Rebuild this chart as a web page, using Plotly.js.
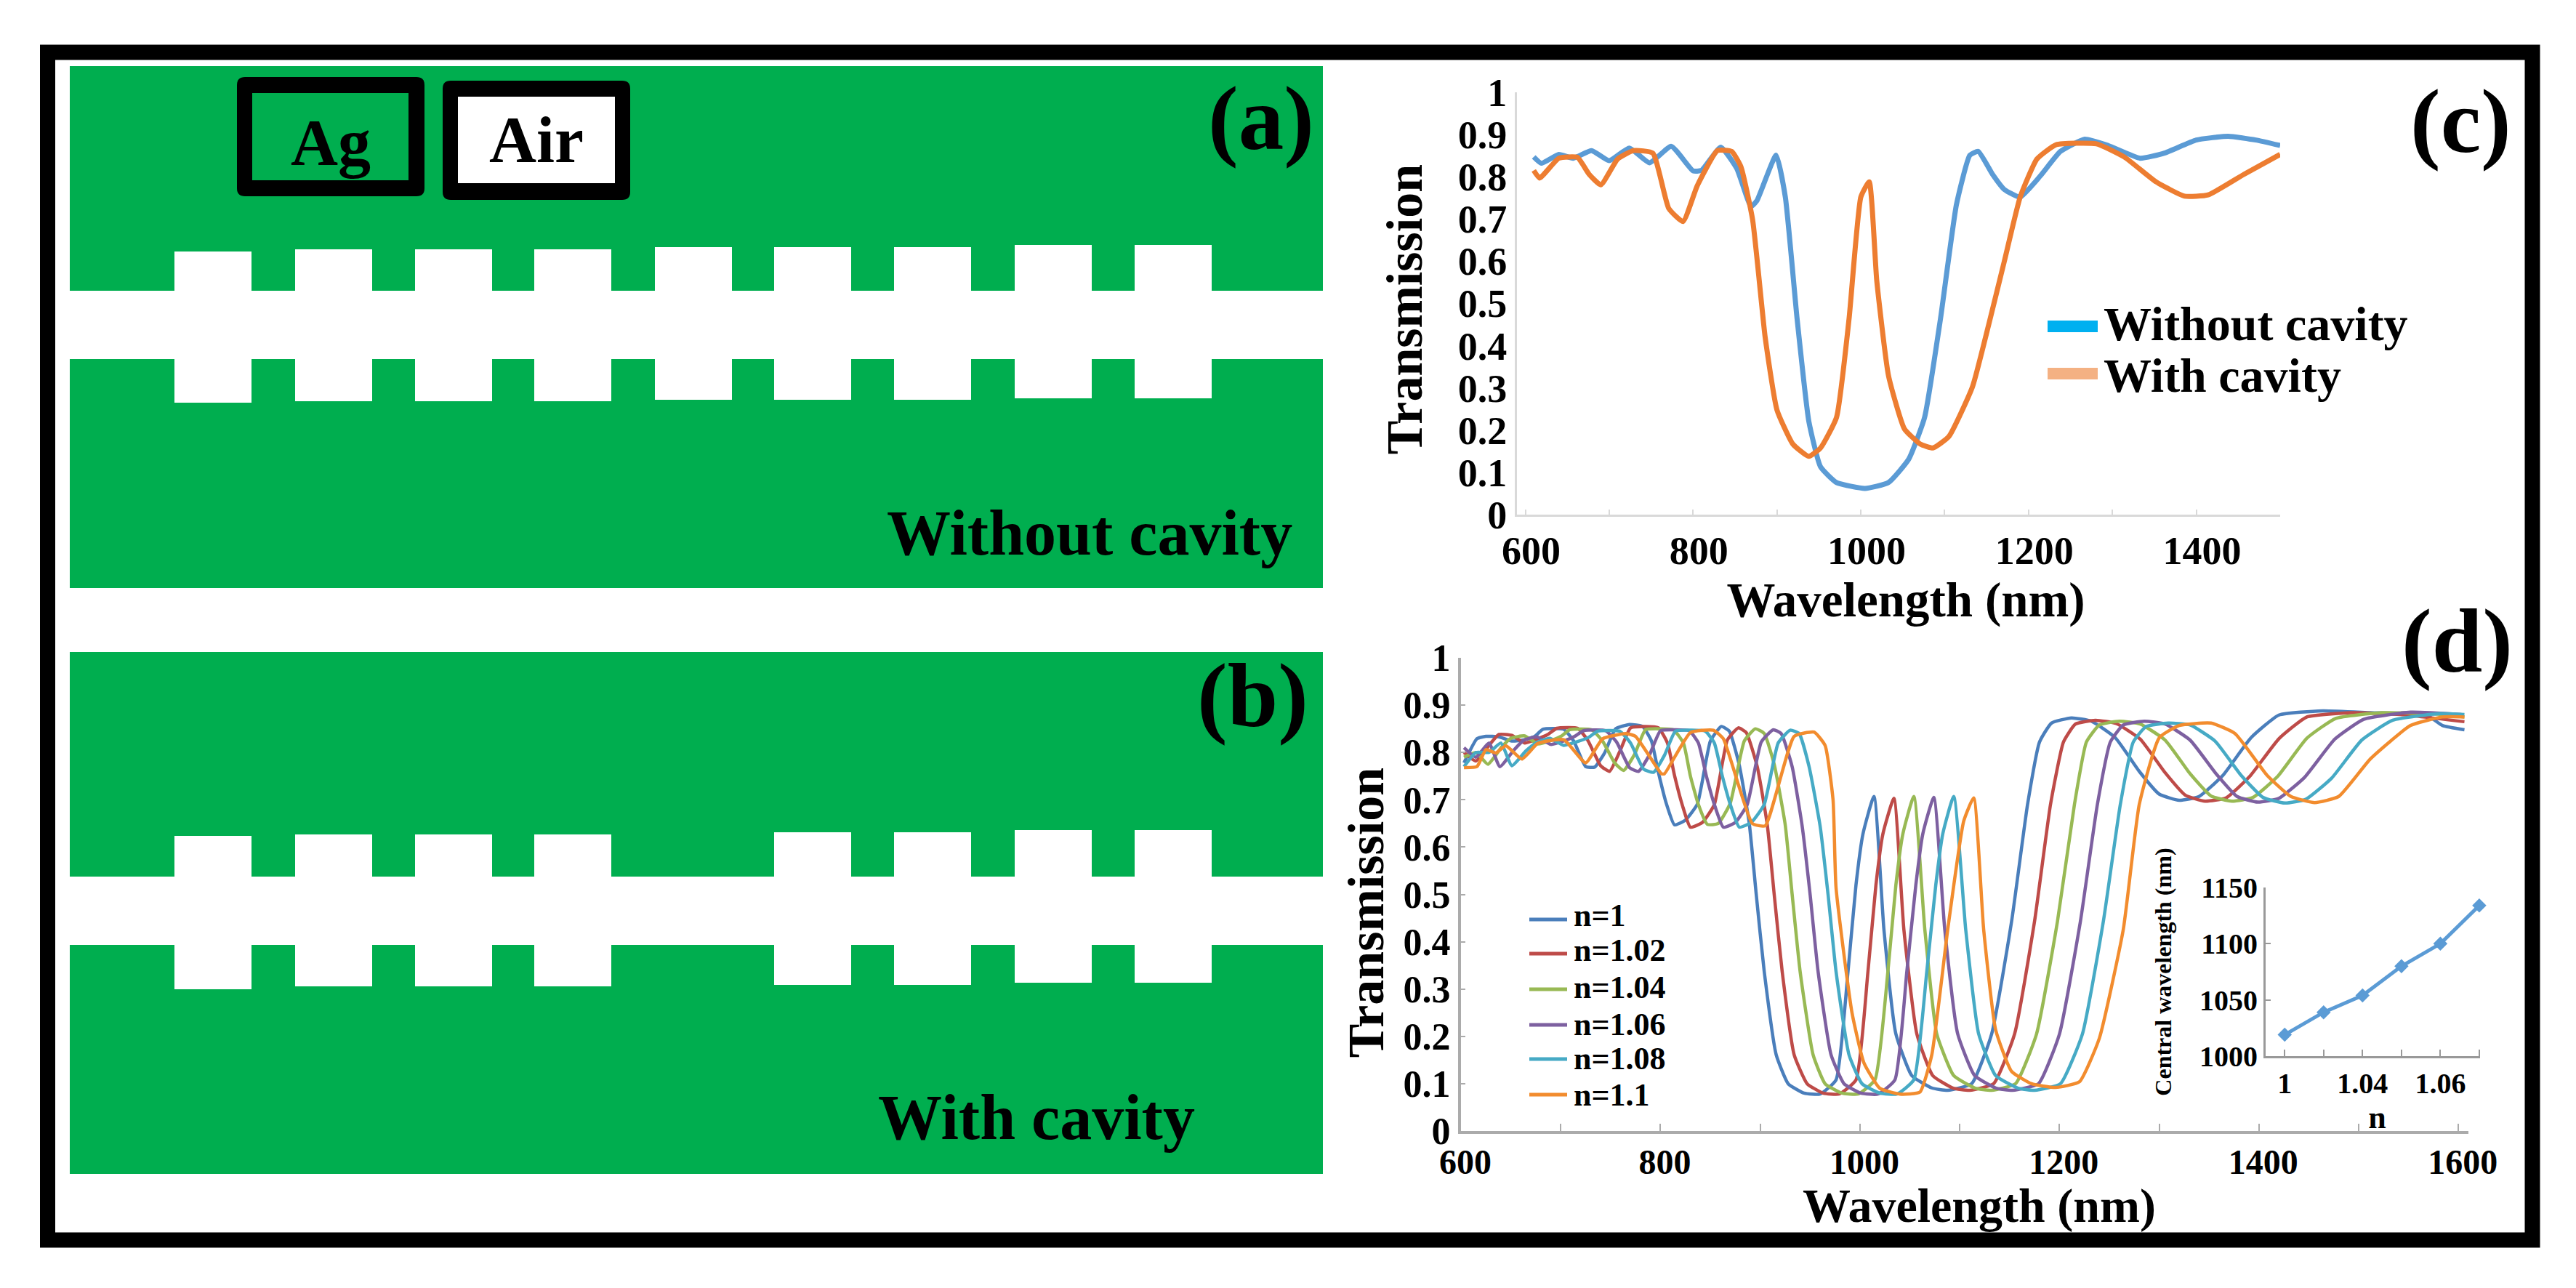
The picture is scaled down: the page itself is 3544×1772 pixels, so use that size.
<!DOCTYPE html>
<html>
<head>
<meta charset="utf-8">
<script src="https://cdn.plot.ly/plotly-3.0.1.min.js"></script>
<style>html,body{margin:0;padding:0;background:#fff}</style>
</head>
<body>
<div id="chart" style="width:3544px;height:1772px"></div>
<script>
// ---------- panel (c) ----------
const cWithoutX = [610,619,640,657,679,700,724,748,774,800,810,833,852,869,876,899,910,924,938,952,971,1005,1033,1057,1076,1095,1114,1130,1140,1157,1171,1190,1214,1238,1267,1295,1333,1362,1400,1438,1471,1500];
const cWithoutY = [.847,.832,.853,.844,.862,.838,.868,.833,.872,.814,.815,.87,.82,.73,.743,.851,.752,.464,.221,.113,.076,.062,.076,.131,.23,.464,.734,.851,.86,.806,.77,.752,.802,.86,.889,.874,.844,.856,.887,.896,.887,.874];
const cWithX = [610,617,640,662,676,690,710,729,752,771,788,805,829,846,857,871,886,900,919,938,952,971,986,1000,1010,1019,1033,1052,1071,1086,1105,1133,1152,1171,1190,1210,1233,1281,1314,1352,1386,1414,1457,1500];
const cWithY = [.815,.797,.844,.846,.806,.781,.842,.862,.856,.725,.694,.779,.862,.86,.824,.698,.419,.248,.167,.138,.158,.23,.464,.752,.788,.554,.329,.203,.167,.158,.185,.302,.446,.599,.752,.842,.876,.878,.847,.788,.754,.757,.806,.853];
const cXTicks = [600,700,800,900,1000,1100,1200,1300,1400,1500];
const cXText = ['600','','800','','1000','','1200','','1400',''];
const yTicks = [0,.1,.2,.3,.4,.5,.6,.7,.8,.9,1];
const yText = ['0','0.1','0.2','0.3','0.4','0.5','0.6','0.7','0.8','0.9','1'];

// ---------- panel (d) ----------
const dN1X = [603,616,625,638,651,664,674,682,703,713,725,734,744,755,769,782,791,798,806,814,825,837,850,861,869,879,889,896,904,916,928,944,960,976,988,996,1003,1014,1024,1036,1052,1072,1088,1112,1132,1152,1168,1180,1192,1212,1232,1256,1280,1300,1320,1340,1364,1392,1420,1464,1512,1568,1584,1606];
const dN1Y = [.778,.829,.834,.833,.824,.827,.834,.849,.849,.824,.770,.769,.799,.850,.859,.855,.824,.757,.691,.647,.657,.691,.824,.855,.845,.773,.650,.50,.337,.161,.100,.080,.078,.108,.337,.52,.628,.707,.426,.205,.117,.091,.086,.100,.205,.443,.690,.822,.862,.873,.866,.831,.760,.712,.699,.707,.752,.831,.879,.888,.884,.879,.857,.848];

const dN102X = [603,615,628,638,651,664,677,687,696,717,727,740,749,759,770,784,798,807,814,822,830,842,854,867,878,886,897,907,914,922,934,947,963,979,996,1008,1016,1023,1034,1044,1057,1073,1093,1110,1134,1155,1175,1191,1204,1216,1236,1257,1281,1306,1326,1346,1367,1391,1420,1448,1493,1542,1606];
const dN102Y = [.80,.782,.815,.838,.836,.820,.829,.838,.851,.851,.826,.772,.760,.801,.852,.855,.852,.820,.752,.688,.642,.652,.690,.826,.852,.842,.770,.648,.50,.337,.161,.100,.080,.078,.108,.337,.52,.628,.703,.426,.205,.117,.091,.086,.100,.205,.443,.690,.822,.860,.868,.861,.828,.757,.710,.697,.704,.750,.829,.875,.884,.880,.865];

const dN104X = [603,615,627,641,650,664,677,691,701,709,731,742,754,763,774,785,800,813,823,830,838,847,858,870,884,895,904,914,925,932,940,953,965,982,998,1015,1028,1036,1043,1054,1065,1077,1094,1115,1132,1156,1177,1198,1215,1227,1240,1260,1281,1306,1331,1352,1373,1394,1419,1448,1477,1523,1572,1606];
const dN104Y = [.79,.80,.775,.812,.83,.835,.818,.826,.835,.848,.848,.824,.778,.762,.796,.848,.85,.848,.82,.75,.69,.648,.65,.693,.824,.85,.84,.775,.648,.50,.337,.161,.100,.080,.078,.108,.337,.52,.628,.707,.426,.205,.117,.091,.086,.100,.205,.443,.690,.822,.858,.866,.86,.826,.755,.708,.697,.705,.750,.830,.872,.884,.882,.875];

const dN106X = [603,615,628,639,653,663,676,690,704,714,723,745,756,769,778,789,800,815,829,838,846,854,863,875,887,901,913,921,932,942,950,958,971,984,1001,1018,1035,1047,1056,1063,1074,1085,1098,1115,1136,1153,1179,1200,1221,1238,1251,1264,1285,1306,1331,1357,1378,1399,1420,1446,1476,1505,1552,1603];
const dN106Y = [.81,.79,.82,.770,.805,.826,.833,.817,.825,.834,.846,.846,.822,.768,.760,.795,.846,.848,.846,.82,.75,.69,.642,.652,.69,.822,.848,.84,.77,.645,.50,.337,.161,.100,.080,.078,.108,.337,.52,.628,.705,.426,.205,.117,.091,.086,.100,.205,.443,.690,.822,.858,.866,.86,.826,.755,.707,.695,.703,.748,.828,.870,.885,.880];

const dN108X = [603,615,628,640,651,665,675,689,703,717,728,737,759,770,783,793,804,815,831,845,854,862,870,879,891,904,918,930,939,949,960,968,976,989,1002,1020,1037,1054,1067,1076,1083,1094,1106,1119,1136,1158,1175,1201,1223,1244,1261,1274,1287,1309,1331,1356,1382,1404,1426,1447,1473,1503,1534,1581,1606];
const dN108Y = [.77,.80,.80,.82,.772,.803,.82,.83,.815,.823,.832,.845,.845,.82,.765,.758,.794,.845,.847,.845,.82,.75,.69,.642,.652,.69,.82,.847,.84,.77,.645,.50,.337,.161,.100,.080,.078,.108,.337,.52,.628,.707,.426,.205,.117,.091,.086,.100,.205,.443,.690,.822,.855,.862,.858,.824,.752,.705,.693,.701,.746,.826,.868,.882,.880];

const dN110X = [603,616,625,635,645,661,677,703,725,742,765,775,801,804,830,853,863,892,905,934,954,965,973,976,992,1004,1020,1040,1060,1072,1088,1104,1114,1124,1136,1152,1172,1196,1220,1240,1264,1280,1300,1320,1352,1376,1408,1432,1456,1480,1512,1552,1584,1606];
const dN110Y = [.768,.770,.806,.799,.814,.786,.819,.827,.778,.829,.840,.834,.755,.755,.842,.847,.829,.650,.645,.834,.843,.815,.70,.514,.25,.144,.09,.078,.082,.161,.426,.655,.704,.426,.214,.126,.10,.092,.104,.196,.426,.69,.831,.857,.862,.84,.752,.707,.694,.707,.787,.857,.875,.875];

const dXTicks = [600,700,800,900,1000,1100,1200,1300,1400,1500,1600];
const dXText = ['600','','800','','1000','','1200','','1400','','1600'];
const dNames = ['n=1','n=1.02','n=1.04','n=1.06','n=1.08','n=1.1'];
const dColors = ['#4A7EBB','#BE4B48','#98B954','#7D60A0','#46AAC5','#F28C2E'];

// ---------- inset ----------
const insetN = ['1','1.02','1.04','1.05','1.06','1.07'];
const insetText = ['1','','1.04','','1.06',''];
const insetCentral = [1019,1039,1054,1080,1100,1134];
const insetYTicks = [1000,1050,1100,1150];

// ---------- schematics (a), (b): panel units ----------
const slotCentersA = [197,363,528,692,858,1022,1187,1353,1518];
const slotBottomA = [255,257,257,257,259,259,259,261,261];
const slotTopA = [463,466,466,466,469,469,469,472,472];
const slotCentersB = [197,363,528,692,1022,1187,1353,1518];
const slotBottomB = [254,258,258,258,260,260,263,263];
const slotTopB = [465,467,467,467,470,470,473,473];

const W = 3544, H = 1772;
const FONT = '"Liberation Serif", serif';
const GREEN = '#00AE4F';
const fx = v => v / W, fy = v => 1 - v / H;
const domX = (a, b) => [fx(a), fx(b)];
const domY = (top, bottom) => [fy(bottom), fy(top)];

function line(x, y, color, width, xa, ya, name) {
  return {type:'scatter', mode:'lines', x, y, name, xaxis:xa, yaxis:ya, showlegend:false,
          line:{color, width, shape:'spline', smoothing:0.45}};
}
function panelBars(xa, ya, centers, bottoms, tops) {
  return [
    {type:'bar', x:[862], y:[718], base:[0], width:[1724], marker:{color:GREEN, line:{width:0}}, xaxis:xa, yaxis:ya, showlegend:false},
    {type:'bar', x:[862], y:[94], base:[315], width:[1724], marker:{color:'#FFFFFF', line:{width:0}}, xaxis:xa, yaxis:ya, showlegend:false},
    {type:'bar', x:centers, y:tops.map((t,i)=>t-bottoms[i]), base:bottoms, width:centers.map(()=>106), marker:{color:'#FFFFFF', line:{width:0}}, xaxis:xa, yaxis:ya, showlegend:false}
  ];
}

const dX = [dN1X,dN102X,dN104X,dN106X,dN108X,dN110X];
const dY = [dN1Y,dN102Y,dN104Y,dN106Y,dN108Y,dN110Y];

const traces = [
  ...panelBars('x4','y4',slotCentersA,slotBottomA,slotTopA),
  ...panelBars('x5','y5',slotCentersB,slotBottomB,slotTopB),
  line(cWithoutX,cWithoutY,'#5B9BD5',7,'x','y','Without cavity'),
  line(cWithX,cWithY,'#ED7D31',7,'x','y','With cavity'),
  ...dNames.map((n,i)=>line(dX[i],dY[i],dColors[i],4.5,'x2','y2',n)),
  {type:'scatter', mode:'lines+markers', x:insetN, y:insetCentral, xaxis:'x3', yaxis:'y3', showlegend:false, cliponaxis:false,
   line:{color:'#5B9BD5', width:5}, marker:{symbol:'diamond', size:15, color:'#5B9BD5'}}
];

const tickF = s => ({family:FONT, size:s, color:'#000', weight:700});
function ax(o){ return Object.assign({showgrid:false, zeroline:false, showline:true, ticks:'inside', automargin:false, fixedrange:true}, o); }
const hidden = (domain, range, anchor) => ({domain, range, anchor, visible:false, fixedrange:true});

function roundBox(x0,y0,x1,y1,r){
  const X=fx, Y=fy;
  return 'M'+X(x0+r)+','+Y(y0)+' L'+X(x1-r)+','+Y(y0)+' Q'+X(x1)+','+Y(y0)+' '+X(x1)+','+Y(y0+r)+
         ' L'+X(x1)+','+Y(y1-r)+' Q'+X(x1)+','+Y(y1)+' '+X(x1-r)+','+Y(y1)+
         ' L'+X(x0+r)+','+Y(y1)+' Q'+X(x0)+','+Y(y1)+' '+X(x0)+','+Y(y1-r)+
         ' L'+X(x0)+','+Y(y0+r)+' Q'+X(x0)+','+Y(y0)+' '+X(x0+r)+','+Y(y0)+' Z';
}
const legendLineY = [1265,1312,1361,1410,1457,1506];
const legendTextY = [1259,1307,1358,1409,1456,1506];

const layout = {
  width:W, height:H, margin:{l:0,r:0,t:0,b:0}, paper_bgcolor:'#fff', plot_bgcolor:'rgba(0,0,0,0)',
  barmode:'overlay', showlegend:false, font:{family:FONT, color:'#000'},
  xaxis: ax({domain:domX(2087,3137), range:[590,1500], anchor:'y', tickvals:cXTicks, ticktext:cXText, tickfont:tickF(54), ticklabelshift:8, linecolor:'#D9D9D9', linewidth:3, tickcolor:'#D9D9D9', tickwidth:2, ticklen:7,
     title:{text:'Wavelength (nm)', standoff:5, font:{family:FONT, size:67, weight:700, color:'#000'}}}),
  yaxis: ax({domain:domY(127,708), range:[0,1], anchor:'x', tickvals:yTicks, ticktext:yText, tickfont:tickF(54), linecolor:'#D9D9D9', linewidth:3, tickcolor:'#D9D9D9', tickwidth:2, ticklen:0,
     title:{text:'Transmission', standoff:27, font:{family:FONT, size:70, weight:700, color:'#000'}}}),
  xaxis2: ax({domain:domX(2010,3396), range:[600,1610], anchor:'y2', tickvals:dXTicks, ticktext:dXText, tickfont:tickF(48), ticklabelshift:6, ticklabelstandoff:-3, linecolor:'#ABABAB', linewidth:4, tickcolor:'#ABABAB', tickwidth:2, ticklen:10,
     title:{text:'Wavelength (nm)', standoff:0, font:{family:FONT, size:66, weight:700, color:'#000'}}}),
  yaxis2: ax({domain:domY(905,1556), range:[0,1], anchor:'x2', tickvals:yTicks, ticktext:yText, tickfont:tickF(52), linecolor:'#ABABAB', linewidth:4, tickcolor:'#ABABAB', tickwidth:2, ticklen:6,
     title:{text:'Transmission', standoff:5, font:{family:FONT, size:70, weight:700, color:'#000'}}}),
  xaxis3: ax({domain:domX(3117,3412), type:'category', categoryorder:'array', categoryarray:insetN, range:[-0.49,5.02], anchor:'y3', tickvals:insetN, ticktext:insetText, tickfont:tickF(40), linecolor:'#999', linewidth:3, tickcolor:'#999', tickwidth:2, ticklen:9,
     title:{text:'n', standoff:0, font:{family:FONT, size:44, weight:700, color:'#000'}}}),
  yaxis3: ax({domain:domY(1221,1453), range:[1000,1150], anchor:'x3', tickvals:insetYTicks, tickfont:tickF(40), linecolor:'#999', linewidth:3, tickcolor:'#999', tickwidth:2, ticklen:7,
     title:{text:'Central wavelength (nm)', standoff:29, font:{family:FONT, size:32, weight:700, color:'#000'}}}),
  xaxis4: hidden(domX(96,1820), [0,1724], 'y4'),
  yaxis4: hidden(domY(91,809), [0,718], 'x4'),
  xaxis5: hidden(domX(96,1820), [0,1724], 'y5'),
  yaxis5: hidden(domY(897,1615), [0,718], 'x5'),
  shapes: [
    {type:'rect', xref:'paper', yref:'paper', x0:fx(65.5), x1:fx(3484), y0:fy(1706), y1:fy(72), line:{color:'#000', width:21}, fillcolor:'rgba(0,0,0,0)'},
    {type:'path', xref:'paper', yref:'paper', path:roundBox(326,106,584,270,11), line:{width:0}, fillcolor:'#000'},
    {type:'rect', xref:'paper', yref:'paper', x0:fx(347), x1:fx(562), y0:fy(248), y1:fy(128), line:{width:0}, fillcolor:GREEN},
    {type:'path', xref:'paper', yref:'paper', path:roundBox(609,111,867,275,11), line:{width:0}, fillcolor:'#000'},
    {type:'rect', xref:'paper', yref:'paper', x0:fx(630), x1:fx(846), y0:fy(252), y1:fy(133), line:{width:0}, fillcolor:'#FFFFFF'},
    {type:'rect', xref:'paper', yref:'paper', x0:fx(2817), x1:fx(2886), y0:fy(457), y1:fy(441), line:{width:0}, fillcolor:'#00B0F0'},
    {type:'rect', xref:'paper', yref:'paper', x0:fx(2817), x1:fx(2886), y0:fy(522), y1:fy(506), line:{width:0}, fillcolor:'#F4B183'},
    ...dNames.map((n,i)=>({type:'line', xref:'paper', yref:'paper', x0:fx(2104), x1:fx(2156),
       y0:fy(legendLineY[i]), y1:fy(legendLineY[i]), line:{color:dColors[i], width:5}}))
  ],
  annotations: []
};

function note(text, x, y, size, anchor){
  layout.annotations.push({text, xref:'paper', yref:'paper', x:fx(x), y:fy(y), xanchor:anchor||'center', yanchor:'middle', showarrow:false, borderpad:0,
    font:{family:FONT, size, weight:700, color:'#000'}});
}
note('(a)',1735,163,125);
note('(b)',1723,957,125);
note('(c)',3385,167,125);
note('(d)',3380,882,125);
note('Ag',455,196,90);
note('Air',738,193,90);
note('Without cavity',1499,734,88);
note('With cavity',1426,1537,88);
note('Without cavity',2893,446,66,'left');
note('With cavity',2893,517,66,'left');
dNames.forEach((n,i)=>note(n,2164,legendTextY[i],44,'left'));

Plotly.newPlot('chart', traces, layout, {staticPlot:true, displayModeBar:false}).then(gd => {
  const nudge = (sel, dx, dy) => {
    const t = gd.querySelector(sel + ' text');
    if (t) t.setAttribute('transform', 'translate(' + dx + ',' + dy + ') ' + (t.getAttribute('transform') || ''));
  };
  nudge('.g-xtitle', 10, 0);
  nudge('.g-ytitle', 0, 8);
  nudge('.g-x2title', 20, -3);
  nudge('.g-y2title', 0, 25);
  nudge('.g-x3title', 6, 0);
});
</script>
</body>
</html>
